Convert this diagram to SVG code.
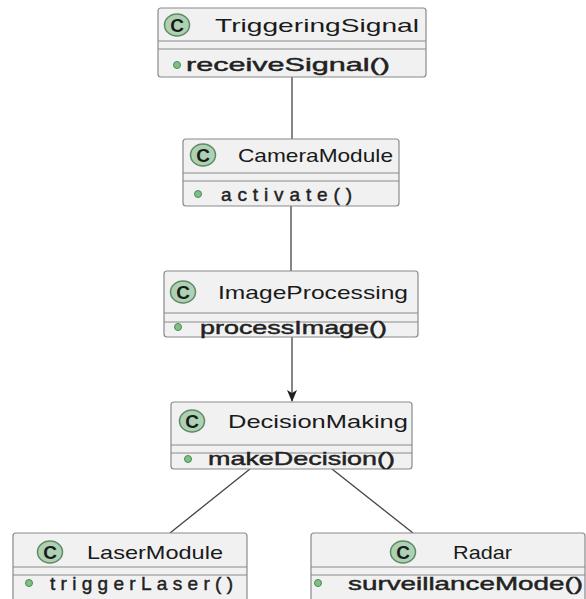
<svg xmlns="http://www.w3.org/2000/svg" width="586" height="599" viewBox="0 0 586 599">
<defs>
<style>
.box{fill:#F1F1F1;stroke:#8A8A8A;stroke-width:1.2}
.sep{stroke:#8A8A8A;stroke-width:1}
.circ{fill:#ADD1B2;stroke:#5E8A66;stroke-width:1.5}
.c{font-family:"Liberation Sans",Arial,sans-serif;font-size:19px;font-weight:bold;fill:#1a1a1a;text-anchor:middle}
.name{font-family:"Liberation Sans",Arial,sans-serif;font-size:19px;fill:#1a1a1a}
.meth{font-family:"Liberation Sans",Arial,sans-serif;font-size:19px;fill:#222;stroke:#222;stroke-width:0.45}
.dot{fill:#84BE84;stroke:#3F8F5A;stroke-width:1}
.edge{stroke:#444;stroke-width:1.3;fill:none}
</style>
<marker id="arr" viewBox="0 0 12 12" refX="11" refY="6" markerWidth="12" markerHeight="12" markerUnits="userSpaceOnUse" orient="auto">
<path d="M0,1 L12,6 L0,11 L3,6 Z" fill="#222"/>
</marker>
</defs>
<rect width="586" height="599" fill="#FFFFFF"/>
<g id="connectors">
<line class="edge" x1="292" y1="77" x2="292" y2="139"/>
<line class="edge" x1="291" y1="206" x2="291" y2="271"/>
<line class="edge" x1="292" y1="337" x2="292" y2="401" marker-end="url(#arr)"/>
<line class="edge" x1="250" y1="469" x2="170" y2="533"/>
<line class="edge" x1="332" y1="469" x2="413" y2="533"/>
</g>
<g id="TriggeringSignal">
<rect class="box" x="158" y="8" width="268" height="69" rx="3"/>
<line class="sep" x1="158" y1="41" x2="426" y2="41"/>
<line class="sep" x1="158" y1="49" x2="426" y2="49"/>
<ellipse class="circ" cx="177" cy="25" rx="12.5" ry="11"/>
<text class="c" x="177" y="32">C</text>
<text class="name" x="215" y="32" textLength="204" lengthAdjust="spacingAndGlyphs">TriggeringSignal</text>
<circle class="dot" cx="177" cy="65" r="3.5"/>
<text class="meth" x="186" y="71" textLength="204" lengthAdjust="spacingAndGlyphs">receiveSignal()</text>
</g>
<g id="CameraModule">
<rect class="box" x="183" y="139" width="216" height="67" rx="3"/>
<line class="sep" x1="183" y1="173" x2="399" y2="173"/>
<line class="sep" x1="183" y1="181" x2="399" y2="181"/>
<ellipse class="circ" cx="203" cy="155" rx="12.5" ry="11"/>
<text class="c" x="203" y="162">C</text>
<text class="name" x="238" y="162" textLength="155" lengthAdjust="spacingAndGlyphs">CameraModule</text>
<circle class="dot" cx="198" cy="194" r="3.5"/>
<text class="meth" x="221" y="201" textLength="131" lengthAdjust="spacing">activate()</text>
</g>
<g id="ImageProcessing">
<rect class="box" x="164" y="271" width="254" height="66" rx="3"/>
<line class="sep" x1="164" y1="313" x2="418" y2="313"/>
<line class="sep" x1="164" y1="322" x2="418" y2="322"/>
<ellipse class="circ" cx="183" cy="292" rx="12.5" ry="11"/>
<text class="c" x="183" y="299">C</text>
<text class="name" x="218" y="299" textLength="190" lengthAdjust="spacingAndGlyphs">ImageProcessing</text>
<circle class="dot" cx="178" cy="327" r="3.5"/>
<text class="meth" x="200" y="334" textLength="187" lengthAdjust="spacingAndGlyphs">processImage()</text>
</g>
<g id="DecisionMaking">
<rect class="box" x="171" y="402" width="241" height="67" rx="3"/>
<line class="sep" x1="171" y1="445" x2="412" y2="445"/>
<line class="sep" x1="171" y1="453" x2="412" y2="453"/>
<ellipse class="circ" cx="192" cy="421" rx="12.5" ry="11"/>
<text class="c" x="192" y="428">C</text>
<text class="name" x="228" y="428" textLength="180" lengthAdjust="spacingAndGlyphs">DecisionMaking</text>
<circle class="dot" cx="188" cy="459" r="3.5"/>
<text class="meth" x="208" y="465" textLength="187" lengthAdjust="spacingAndGlyphs">makeDecision()</text>
</g>
<g id="LaserModule">
<rect class="box" x="13" y="533" width="234" height="80" rx="3"/>
<line class="sep" x1="13" y1="567" x2="247" y2="567"/>
<line class="sep" x1="13" y1="575" x2="247" y2="575"/>
<ellipse class="circ" cx="50" cy="552" rx="12.5" ry="11"/>
<text class="c" x="50" y="559">C</text>
<text class="name" x="87" y="559" textLength="136" lengthAdjust="spacingAndGlyphs">LaserModule</text>
<circle class="dot" cx="29" cy="583" r="3.5"/>
<text class="meth" x="50" y="590" textLength="183" lengthAdjust="spacing">triggerLaser()</text>
</g>
<g id="Radar">
<rect class="box" x="311" y="533" width="274" height="80" rx="3"/>
<line class="sep" x1="311" y1="567" x2="585" y2="567"/>
<line class="sep" x1="311" y1="575" x2="585" y2="575"/>
<ellipse class="circ" cx="403" cy="552" rx="12.5" ry="11"/>
<text class="c" x="403" y="559">C</text>
<text class="name" x="453" y="559" textLength="59" lengthAdjust="spacingAndGlyphs">Radar</text>
<circle class="dot" cx="318" cy="583" r="3.5"/>
<text class="meth" x="348" y="590" textLength="235" lengthAdjust="spacingAndGlyphs">surveillanceMode()</text>
</g>
</svg>
